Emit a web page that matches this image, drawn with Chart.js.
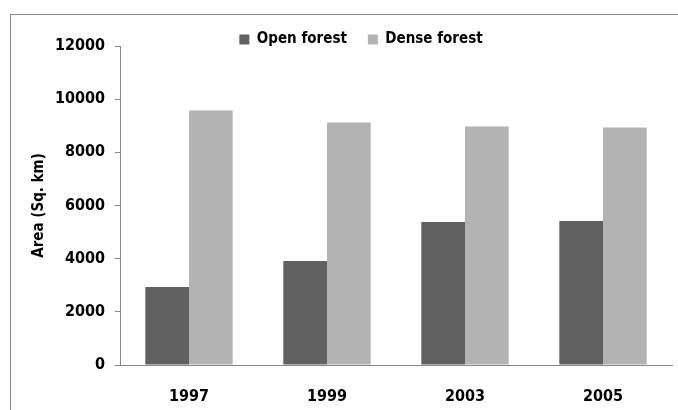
<!DOCTYPE html>
<html>
<head>
<meta charset="utf-8">
<script src="https://cdn.jsdelivr.net/npm/chart.js@4/dist/chart.umd.min.js"></script>
<style>
  html, body { margin: 0; padding: 0; background: #fff; overflow: hidden; }
  #wrap { position: relative; width: 678px; height: 410px; }
  #frame { position: absolute; left: 10px; top: 14px; width: 800px; height: 500px; border: 1px solid #8a8a8a; }
  #chart { position: absolute; left: 0; top: 0; }
</style>
</head>
<body>
<div id="wrap">
  <div id="frame"></div>
  <canvas id="chart" width="678" height="410"></canvas>
</div>
<script>
var years = ['1997', '1999', '2003', '2005'];
var openForest = [2930, 3910, 5380, 5420];
var denseForest = [9570, 9120, 8970, 8930];
var yTicks = [0, 2000, 4000, 6000, 8000, 10000, 12000];

var fontFam = '"DejaVu Sans Condensed", "DejaVu Sans", sans-serif';

// legend sits a bit right of the canvas centre in the original
var legendShift = {
  id: 'legendShift',
  afterLayout: function (chart) {
    chart.legend.left += 24;
  }
};

var data = {
  labels: years,
  datasets: [{
    label: 'Open forest',
    data: openForest,
    backgroundColor: '#616161',
    borderWidth: 0
  }, {
    label: 'Dense forest',
    data: denseForest,
    backgroundColor: '#b3b3b3',
    borderWidth: 0
  }]
};

var config = {
  type: 'bar',
  data: data,
  plugins: [legendShift],
  options: {
    responsive: false,
    animation: false,
    categoryPercentage: 0.633,
    barPercentage: 1,
    layout: { padding: { left: 26, right: 6, top: 11, bottom: 0 } },
    plugins: {
      legend: {
        position: 'top',
        maxHeight: 35,
        labels: {
          boxWidth: 10,
          boxHeight: 10,
          padding: 21,
          color: '#000',
          font: { family: fontFam, size: 15, weight: 'bold' }
        }
      },
      tooltip: { enabled: false }
    },
    scales: {
      x: {
        grid: { display: false },
        border: { color: '#888' },
        ticks: {
          color: '#000',
          padding: 14,
          font: { family: fontFam, size: 16, weight: 'bold' }
        },
        afterFit: function (s) { s.height = 45; }
      },
      y: {
        min: 0,
        max: 12000,
        grid: { drawOnChartArea: false, tickLength: 5, color: '#888' },
        border: { color: '#888' },
        afterBuildTicks: function (s) {
          s.ticks = yTicks.map(function (v) { return { value: v }; });
        },
        ticks: {
          color: '#000',
          padding: 10,
          font: { family: fontFam, size: 16, weight: 'bold' },
          callback: function (v) { return String(v); }
        },
        title: {
          display: true,
          text: 'Area (Sq. km)',
          color: '#000',
          padding: 4,
          font: { family: fontFam, size: 15, weight: 'bold' }
        },
        afterFit: function (s) { s.width = 94; }
      }
    }
  }
};

var chart = new Chart(document.getElementById('chart'), config);
</script>
</body>
</html>
